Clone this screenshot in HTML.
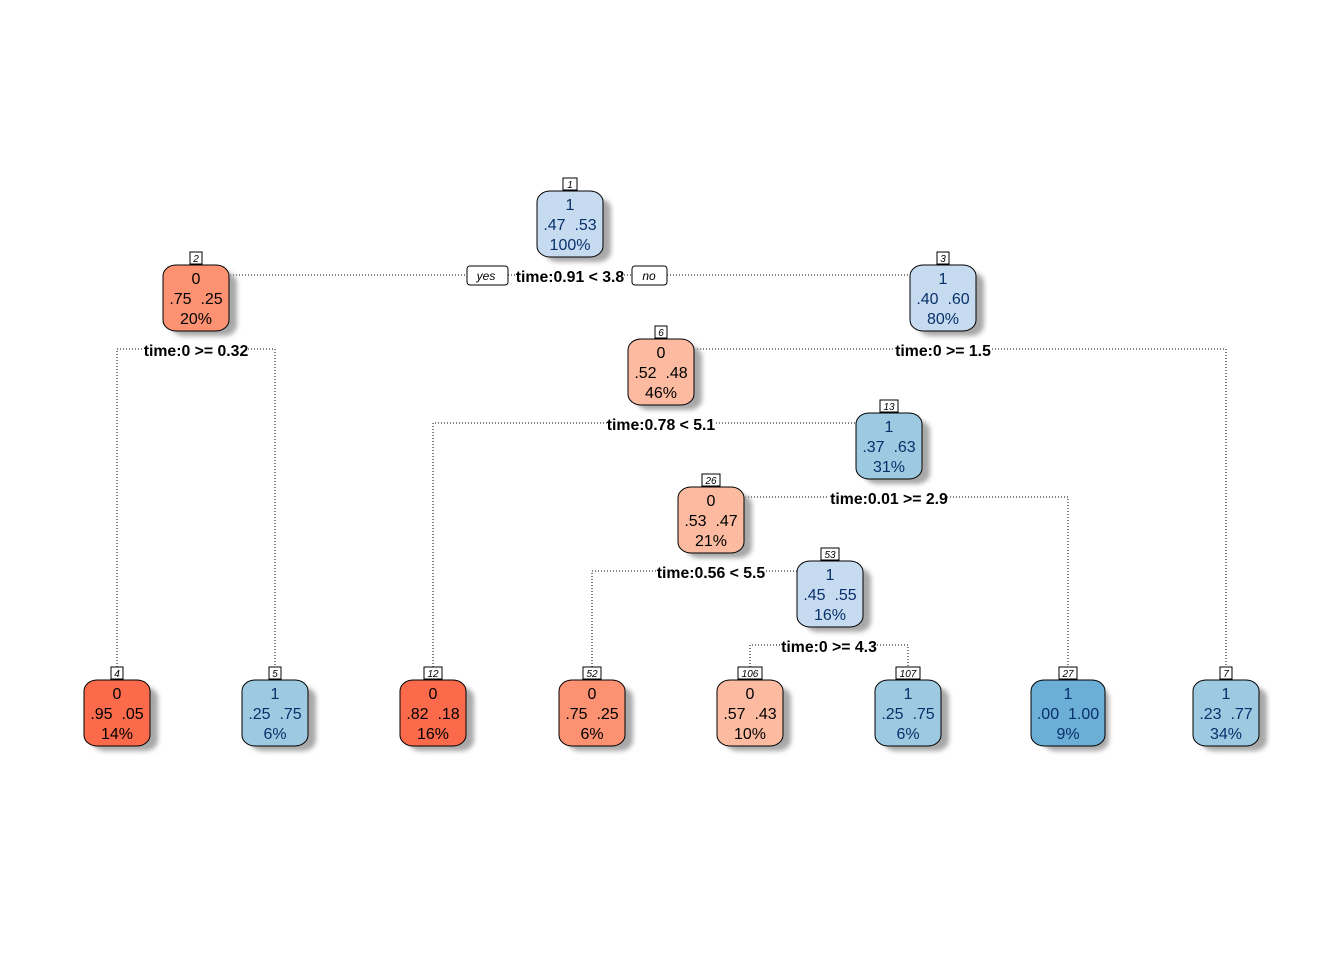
<!DOCTYPE html>
<html><head><meta charset="utf-8"><style>
html,body{margin:0;padding:0;background:#fff;}
svg{display:block;}
text{white-space:pre;}
.t{font-family:"Liberation Sans",sans-serif;font-size:16px;text-anchor:middle;}
.s{font-family:"Liberation Sans",sans-serif;font-size:15.8px;font-weight:bold;text-anchor:middle;}
.n{font-family:"Liberation Sans",sans-serif;font-size:10px;font-style:italic;text-anchor:middle;}
.yn{font-family:"Liberation Sans",sans-serif;font-size:12px;font-style:italic;text-anchor:middle;}
.l{stroke:#000;stroke-width:1;stroke-dasharray:1 2;fill:none;}
</style></head><body>
<svg width="1344" height="960" viewBox="0 0 1344 960" xmlns="http://www.w3.org/2000/svg" xml:space="preserve">
<defs>
<filter id="b" x="-20%" y="-20%" width="140%" height="140%"><feGaussianBlur stdDeviation="2.5"/></filter>
<g id="sh"><rect x="-25" y="7" width="66" height="64" rx="13" ry="11" fill="#a8a8a8" filter="url(#b)"/></g>
</defs>
<path class="l" d="M230 275 H467 M508 275 H516 M624 275 H632 M667 275 H910"/>
<path class="l" d="M117 667 V349 H143 M248 349 H275 V667"/>
<path class="l" d="M694 349 H895 M992 349 H1226 V667"/>
<path class="l" d="M433 667 V423 H607 M716 423 H857"/>
<path class="l" d="M745 497 H829 M947 497 H1068 V667"/>
<path class="l" d="M592 667 V571 H656 M766 571 H797"/>
<path class="l" d="M750 667 V645 H781 M877 645 H908 V667"/>

<g font-family="Liberation Sans">
<g transform="translate(570,191)"><use href="#sh"/><rect x="-33" y="0" width="66" height="66" rx="13" ry="11" fill="#c6dbef" stroke="#000"/>
<rect x="-7" y="-13" width="14" height="12" fill="#fff" stroke="#000"/><text class="n" y="-3">1</text>
<text class="t" y="19" fill="#08306b">1</text><text class="t" y="39" fill="#08306b">.47  .53</text><text class="t" y="59" fill="#08306b">100%</text></g>
<g transform="translate(196,265)"><use href="#sh"/><rect x="-33" y="0" width="66" height="66" rx="13" ry="11" fill="#fc9272" stroke="#000"/>
<rect x="-6" y="-13" width="12" height="12" fill="#fff" stroke="#000"/><text class="n" y="-3">2</text>
<text class="t" y="19">0</text><text class="t" y="39">.75  .25</text><text class="t" y="59">20%</text></g>
<g transform="translate(943,265)"><use href="#sh"/><rect x="-33" y="0" width="66" height="66" rx="13" ry="11" fill="#c6dbef" stroke="#000"/>
<rect x="-6" y="-13" width="12" height="12" fill="#fff" stroke="#000"/><text class="n" y="-3">3</text>
<text class="t" y="19" fill="#08306b">1</text><text class="t" y="39" fill="#08306b">.40  .60</text><text class="t" y="59" fill="#08306b">80%</text></g>
<g transform="translate(661,339)"><use href="#sh"/><rect x="-33" y="0" width="66" height="66" rx="13" ry="11" fill="#fcbba1" stroke="#000"/>
<rect x="-6" y="-13" width="12" height="12" fill="#fff" stroke="#000"/><text class="n" y="-3">6</text>
<text class="t" y="19">0</text><text class="t" y="39">.52  .48</text><text class="t" y="59">46%</text></g>
<g transform="translate(889,413)"><use href="#sh"/><rect x="-33" y="0" width="66" height="66" rx="13" ry="11" fill="#9ecae1" stroke="#000"/>
<rect x="-9" y="-13" width="18" height="12" fill="#fff" stroke="#000"/><text class="n" y="-3">13</text>
<text class="t" y="19" fill="#08306b">1</text><text class="t" y="39" fill="#08306b">.37  .63</text><text class="t" y="59" fill="#08306b">31%</text></g>
<g transform="translate(711,487)"><use href="#sh"/><rect x="-33" y="0" width="66" height="66" rx="13" ry="11" fill="#fcbba1" stroke="#000"/>
<rect x="-9" y="-13" width="18" height="12" fill="#fff" stroke="#000"/><text class="n" y="-3">26</text>
<text class="t" y="19">0</text><text class="t" y="39">.53  .47</text><text class="t" y="59">21%</text></g>
<g transform="translate(830,561)"><use href="#sh"/><rect x="-33" y="0" width="66" height="66" rx="13" ry="11" fill="#c6dbef" stroke="#000"/>
<rect x="-9" y="-13" width="18" height="12" fill="#fff" stroke="#000"/><text class="n" y="-3">53</text>
<text class="t" y="19" fill="#08306b">1</text><text class="t" y="39" fill="#08306b">.45  .55</text><text class="t" y="59" fill="#08306b">16%</text></g>

<g transform="translate(117,680)"><use href="#sh"/><rect x="-33" y="0" width="66" height="66" rx="13" ry="11" fill="#fb6a4a" stroke="#000"/>
<rect x="-6" y="-13" width="12" height="12" fill="#fff" stroke="#000"/><text class="n" y="-3">4</text>
<text class="t" y="19">0</text><text class="t" y="39">.95  .05</text><text class="t" y="59">14%</text></g>
<g transform="translate(275,680)"><use href="#sh"/><rect x="-33" y="0" width="66" height="66" rx="13" ry="11" fill="#9ecae1" stroke="#000"/>
<rect x="-6" y="-13" width="12" height="12" fill="#fff" stroke="#000"/><text class="n" y="-3">5</text>
<text class="t" y="19" fill="#08306b">1</text><text class="t" y="39" fill="#08306b">.25  .75</text><text class="t" y="59" fill="#08306b">6%</text></g>
<g transform="translate(433,680)"><use href="#sh"/><rect x="-33" y="0" width="66" height="66" rx="13" ry="11" fill="#fb6a4a" stroke="#000"/>
<rect x="-9" y="-13" width="18" height="12" fill="#fff" stroke="#000"/><text class="n" y="-3">12</text>
<text class="t" y="19">0</text><text class="t" y="39">.82  .18</text><text class="t" y="59">16%</text></g>
<g transform="translate(592,680)"><use href="#sh"/><rect x="-33" y="0" width="66" height="66" rx="13" ry="11" fill="#fc9272" stroke="#000"/>
<rect x="-9" y="-13" width="18" height="12" fill="#fff" stroke="#000"/><text class="n" y="-3">52</text>
<text class="t" y="19">0</text><text class="t" y="39">.75  .25</text><text class="t" y="59">6%</text></g>
<g transform="translate(750,680)"><use href="#sh"/><rect x="-33" y="0" width="66" height="66" rx="13" ry="11" fill="#fcbba1" stroke="#000"/>
<rect x="-12" y="-13" width="24" height="12" fill="#fff" stroke="#000"/><text class="n" y="-3">106</text>
<text class="t" y="19">0</text><text class="t" y="39">.57  .43</text><text class="t" y="59">10%</text></g>
<g transform="translate(908,680)"><use href="#sh"/><rect x="-33" y="0" width="66" height="66" rx="13" ry="11" fill="#9ecae1" stroke="#000"/>
<rect x="-12" y="-13" width="24" height="12" fill="#fff" stroke="#000"/><text class="n" y="-3">107</text>
<text class="t" y="19" fill="#08306b">1</text><text class="t" y="39" fill="#08306b">.25  .75</text><text class="t" y="59" fill="#08306b">6%</text></g>
<g transform="translate(1068,680)"><use href="#sh"/><rect x="-37" y="0" width="74" height="66" rx="13" ry="11" fill="#6baed6" stroke="#000"/>
<rect x="-9" y="-13" width="18" height="12" fill="#fff" stroke="#000"/><text class="n" y="-3">27</text>
<text class="t" y="19" fill="#08306b">1</text><text class="t" y="39" fill="#08306b">.00  1.00</text><text class="t" y="59" fill="#08306b">9%</text></g>
<g transform="translate(1226,680)"><use href="#sh"/><rect x="-33" y="0" width="66" height="66" rx="13" ry="11" fill="#9ecae1" stroke="#000"/>
<rect x="-6" y="-13" width="12" height="12" fill="#fff" stroke="#000"/><text class="n" y="-3">7</text>
<text class="t" y="19" fill="#08306b">1</text><text class="t" y="39" fill="#08306b">.23  .77</text><text class="t" y="59" fill="#08306b">34%</text></g>
</g>

<rect x="467" y="266" width="41" height="19" rx="3" fill="#fff" stroke="#000"/><text class="yn" x="486" y="280">yes</text>
<rect x="632" y="266" width="35" height="19" rx="3" fill="#fff" stroke="#000"/><text class="yn" x="649" y="280">no</text>
<text class="s" x="570" y="282">time:0.91 &lt; 3.8</text>
<text class="s" x="196" y="356">time:0 &gt;= 0.32</text>
<text class="s" x="943" y="356">time:0 &gt;= 1.5</text>
<text class="s" x="661" y="430">time:0.78 &lt; 5.1</text>
<text class="s" x="889" y="504">time:0.01 &gt;= 2.9</text>
<text class="s" x="711" y="578">time:0.56 &lt; 5.5</text>
<text class="s" x="829" y="652">time:0 &gt;= 4.3</text>
</svg>
</body></html>
